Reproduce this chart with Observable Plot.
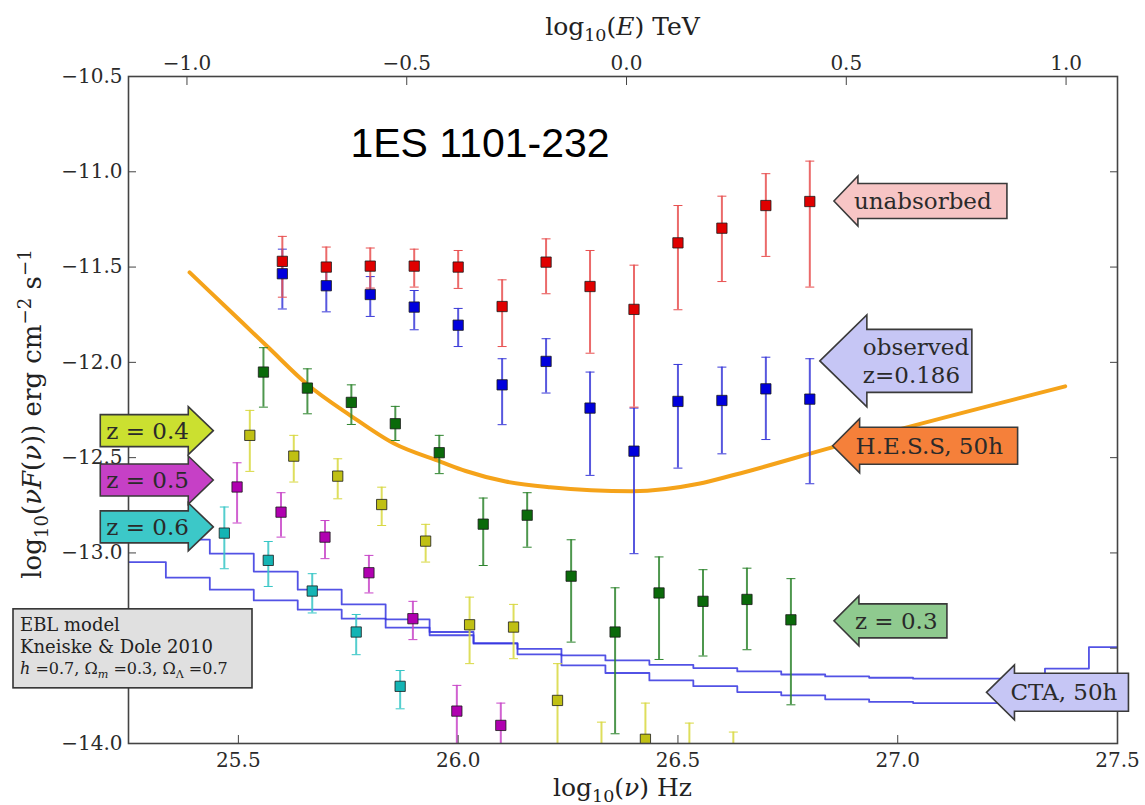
<!DOCTYPE html>
<html><head><meta charset="utf-8">
<script src="https://cdn.jsdelivr.net/npm/d3@7"></script>
<script src="https://cdn.jsdelivr.net/npm/@observablehq/plot@0.6"></script>
<style>body{margin:0;background:#fff;}</style>
</head><body><div id="chart"></div>
<script>
// ---------------- data ----------------
const title = "1ES 1101-232";
const xTicks = [25.5, 26.0, 26.5, 27.0, 27.5];
const yTicks = [-10.5, -11.0, -11.5, -12.0, -12.5, -13.0, -13.5, -14.0];
const yTicksHiddenLabel = [-13.5]; // label covered by the EBL box in the reference
const topTicksE = [-1.0, -0.5, 0.0, 0.5, 1.0];
const nuOfOneTeV = 26.383; // log10(nu) at E = 1 TeV

// unabsorbed (red)
const redX  = [25.6, 25.7, 25.8, 25.9, 26.0, 26.1, 26.2, 26.3, 26.4, 26.5, 26.6, 26.7, 26.8];
const redY  = [-11.47, -11.50, -11.495, -11.495, -11.50, -11.707, -11.474, -11.602, -11.722, -11.373, -11.296, -11.177, -11.156];
const redHi = [-11.339, -11.395, -11.40, -11.406, -11.413, -11.567, -11.352, -11.413, -11.49, -11.177, -11.128, -11.01, -10.944];
const redLo = [-11.658, -11.61, -11.61, -11.605, -11.612, -11.917, -11.64, -11.952, -12.235, -11.724, -11.576, -11.444, -11.605];
// observed z=0.186 (blue)
const blueX  = [25.6, 25.7, 25.8, 25.9, 26.0, 26.1, 26.2, 26.3, 26.4, 26.5, 26.6, 26.7, 26.8];
const blueY  = [-11.535, -11.598, -11.644, -11.71, -11.805, -12.118, -11.995, -12.24, -12.466, -12.205, -12.20, -12.139, -12.193];
const blueHi = [-11.406, -11.50, -11.55, -11.623, -11.717, -11.981, -11.876, -12.051, -12.24, -12.011, -12.025, -11.973, -11.981];
const blueLo = [-11.72, -11.735, -11.759, -11.829, -11.917, -12.327, -12.161, -12.593, -13.004, -12.555, -12.48, -12.405, -12.637];
// z = 0.3 (green)
const greenX  = [25.557, 25.657, 25.757, 25.857, 25.957, 26.057, 26.157, 26.257, 26.357, 26.457, 26.557, 26.657, 26.757];
const greenY  = [-12.051, -12.135, -12.21, -12.322, -12.474, -12.849, -12.802, -13.122, -13.415, -13.21, -13.254, -13.244, -13.351];
const greenHi = [-11.923, -12.034, -12.118, -12.231, -12.383, -12.712, -12.684, -12.931, -13.183, -13.021, -13.088, -13.08, -13.135];
const greenLo = [-12.235, -12.27, -12.326, -12.41, -12.584, -13.066, -12.97, -13.468, -13.949, -13.559, -13.541, -13.508, -13.797];
// z = 0.4 (yellow)
const yellowX  = [25.526, 25.626, 25.726, 25.826, 25.926, 26.026, 26.126, 26.226, 26.326, 26.426, 26.526, 26.626];
const yellowY  = [-12.383, -12.492, -12.597, -12.746, -12.938, -13.377, -13.389, -13.774, -14.15, -13.978, -14.15, -14.2];
const yellowHi = [-12.252, -12.383, -12.506, -12.655, -12.85, -13.232, -13.27, -13.581, -13.888, -13.788, -13.893, -13.94];
const yellowLo = [-12.572, -12.628, -12.716, -12.856, -13.048, -13.581, -13.555, -14.1, -14.5, -14.3, -14.5, -14.5];
// z = 0.5 (magenta)
const magentaX  = [25.497, 25.597, 25.697, 25.797, 25.897, 25.997, 26.097];
const magentaY  = [-12.654, -12.786, -12.917, -13.104, -13.345, -13.83, -13.905];
const magentaHi = [-12.527, -12.684, -12.83, -13.013, -13.254, -13.695, -13.788];
const magentaLo = [-12.843, -12.917, -13.03, -13.21, -13.455, -14.05, -14.1];
// z = 0.6 (cyan)
const cyanX  = [25.468, 25.568, 25.668, 25.768, 25.868];
const cyanY  = [-12.896, -13.039, -13.2, -13.415, -13.70];
const cyanHi = [-12.759, -12.94, -13.109, -13.323, -13.617];
const cyanLo = [-13.083, -13.176, -13.315, -13.534, -13.818];
// H.E.S.S. 50h sensitivity (orange)
const hessX = [25.389, 25.48, 25.566, 25.657, 25.755, 25.853, 25.962, 26.017, 26.108, 26.209, 26.396, 26.547, 26.629, 26.853, 27.381];
const hessY = [-11.528, -11.728, -11.917, -12.116, -12.279, -12.425, -12.523, -12.57, -12.625, -12.655, -12.676, -12.637, -12.59, -12.445, -12.126];
// CTA 50h sensitivity (two step curves)
const ctaUpperX = [25.335, 25.435, 25.535, 25.635, 25.735, 25.835, 25.935, 26.035, 26.135, 26.235, 26.335, 26.435, 26.535, 26.635, 26.735, 26.835, 26.935, 27.035, 27.135, 27.235, 27.335, 27.435, 27.5];
const ctaUpperY = [-12.93, -13.004, -13.098, -13.193, -13.27, -13.349, -13.415, -13.473, -13.503, -13.538, -13.564, -13.587, -13.604, -13.622, -13.638, -13.648, -13.655, -13.66, -13.66, -13.66, -13.607, -13.494, -13.494];
const ctaLowerX = [25.25, 25.335, 25.435, 25.535, 25.635, 25.735, 25.835, 25.935, 26.035, 26.135, 26.235, 26.335, 26.435, 26.535, 26.635, 26.735, 26.835, 26.935, 27.035, 27.5];
const ctaLowerY = [-13.048, -13.13, -13.193, -13.249, -13.298, -13.345, -13.392, -13.432, -13.476, -13.532, -13.59, -13.63, -13.669, -13.699, -13.73, -13.747, -13.768, -13.782, -13.788, -13.788];

// annotation labels (text) and where their arrow tips point (data coords)
const arrowText = [["unabsorbed"], ["observed", "z=0.186"], ["H.E.S.S, 50h"], ["z = 0.3"], ["CTA, 50h"], ["z = 0.4"], ["z = 0.5"], ["z = 0.6"]];
const arrowTipX = [26.856, 26.824, 26.853, 26.856, 27.203, 25.444, 25.444, 25.444];
const arrowTipY = [-11.156, -11.995, -12.44, -13.359, -13.734, -12.361, -12.62, -12.866];
const eblLines = ["EBL model", "Kneiske & Dole 2010"];

// ---------------- styles ----------------
const series = [
  {X: cyanX, Y: cyanY, Hi: cyanHi, Lo: cyanLo, fill: "#14b4b4", bar: "#36c6c6"},
  {X: magentaX, Y: magentaY, Hi: magentaHi, Lo: magentaLo, fill: "#b000b0", bar: "#c845c8"},
  {X: yellowX, Y: yellowY, Hi: yellowHi, Lo: yellowLo, fill: "#c0c014", bar: "#d8d840"},
  {X: greenX, Y: greenY, Hi: greenHi, Lo: greenLo, fill: "#0a6a0a", bar: "#2f852f"},
  {X: blueX, Y: blueY, Hi: blueHi, Lo: blueLo, fill: "#0000dd", bar: "#3a3ad8"},
  {X: redX, Y: redY, Hi: redHi, Lo: redLo, fill: "#e00000", bar: "#e85050"}
];
const arrowStyle = [
  {dir: "left", fill: "#f7c5c5", hl: 24, hh: 25, bh: 17.5, bw: 149},
  {dir: "left", fill: "#c6c6f5", hl: 47, hh: 46, bh: 31.5, bw: 105},
  {dir: "left", fill: "#f5803a", hl: 27, hh: 27, bh: 18.5, bw: 158},
  {dir: "left", fill: "#8fca8f", hl: 25, hh: 25, bh: 17, bw: 88},
  {dir: "left", fill: "#c6c6f5", hl: 28, hh: 27.5, bh: 19, bw: 114},
  {dir: "right", fill: "#cbe030", hl: 25, hh: 24, bh: 16, bw: 88},
  {dir: "right", fill: "#c640c6", hl: 25, hh: 24, bh: 16, bw: 88},
  {dir: "right", fill: "#3cc8c8", hl: 25, hh: 24, bh: 16, bw: 88}
];

const rowsOf = s => s.X.map((v, i) => ({x: v, y: s.Y[i], hi: s.Hi[i], lo: s.Lo[i]}));
const capSymbol = {draw(ctx) { ctx.moveTo(-4.5, 0); ctx.lineTo(4.5, 0); }};
const fmt = v => (Math.abs(v) < 1e-9 ? "0.0" : (v < 0 ? "\u2212" : "") + Math.abs(v).toFixed(1));
const fmtY = v => (yTicksHiddenLabel.includes(v) ? "" : fmt(v));

const marks = [
  Plot.line(ctaLowerX.map((v, i) => ({x: v, y: ctaLowerY[i]})), {x: "x", y: "y", curve: "step-after", stroke: "#3434e0", strokeOpacity: 0.85, strokeWidth: 1.8, clip: true}),
  Plot.line(ctaUpperX.map((v, i) => ({x: v, y: ctaUpperY[i]})), {x: "x", y: "y", curve: "step-after", stroke: "#3434e0", strokeOpacity: 0.85, strokeWidth: 1.8, clip: true}),
  Plot.line(hessX.map((v, i) => ({x: v, y: hessY[i]})), {x: "x", y: "y", curve: "monotone-x", stroke: "#f5a31a", strokeWidth: 4, clip: true})
];
for (const s of series) {
  const rows = rowsOf(s);
  marks.push(Plot.ruleX(rows, {x: "x", y1: "lo", y2: "hi", stroke: s.bar, strokeWidth: 2, strokeOpacity: 0.85, clip: true}));
  marks.push(Plot.dot(rows, {x: "x", y: "hi", symbol: capSymbol, stroke: s.bar, strokeWidth: 1, clip: true}));
  marks.push(Plot.dot(rows, {x: "x", y: "lo", symbol: capSymbol, stroke: s.bar, strokeWidth: 1, clip: true}));
}
for (const s of series) {
  marks.push(Plot.dot(rowsOf(s), {x: "x", y: "y", symbol: "square", r: 5.8, fill: s.fill, stroke: "#1a1a1a", strokeWidth: 0.8, clip: true}));
}
marks.push(
  Plot.text([title], {x: [25.755], y: [-10.925], text: d => d, textAnchor: "start", lineAnchor: "bottom", fontSize: 41, fontFamily: "Liberation Sans, Arial, sans-serif", fill: "#000"}),
  Plot.frame({stroke: "#444", strokeWidth: 1.6}),
  Plot.axisY({anchor: "left", ticks: yTicks, tickSize: -8, tickPadding: 14, tickFormat: fmtY, label: null, stroke: "#444"}),
  Plot.axisY({anchor: "right", ticks: yTicks, tickSize: -8, tickFormat: () => "", label: null, stroke: "#444"}),
  Plot.axisX({anchor: "bottom", ticks: xTicks, tickSize: -8, tickPadding: 17, tickFormat: d => d.toFixed(1), label: null, stroke: "#444"}),
  Plot.axisX({anchor: "top", ticks: topTicksE.map(e => e + nuOfOneTeV), tickSize: -8, tickPadding: 15, tickFormat: v => fmt(v - nuOfOneTeV), label: null, stroke: "#444"})
);

const plot = Plot.plot({
  width: 1145, height: 805,
  marginLeft: 128, marginRight: 28, marginTop: 76, marginBottom: 62,
  x: {domain: [25.25, 27.5]},
  y: {domain: [-14, -10.5]},
  style: {fontFamily: "DejaVu Serif", fontSize: "20px", color: "#2a2a2a", background: "white"},
  marks
});
document.getElementById("chart").appendChild(plot);

// ---------------- annotations placed through the plot's scales ----------------
const sx = plot.scale("x"), sy = plot.scale("y");
const svg = d3.select(plot);
const g = svg.append("g").attr("font-family", "DejaVu Serif").attr("fill", "#222").attr("text-anchor", "start");

function rich(t, parts, size) {
  for (const p of parts) {
    const ts = t.append("tspan").text(p.t);
    if (p.it) ts.attr("font-style", "italic");
    if (p.sub) ts.attr("font-size", size * 0.7).attr("dy", size * 0.25);
    if (p.sup) ts.attr("font-size", size * 0.7).attr("dy", -size * 0.4);
    if (p.back) ts.attr("dy", p.back);
  }
}

// arrows
arrowText.forEach((lines, i) => {
  const st = arrowStyle[i];
  const tx = sx.apply(arrowTipX[i]), ty = sy.apply(arrowTipY[i]);
  let d, textX;
  if (st.dir === "left") {
    const hb = tx + st.hl;
    d = `M${tx},${ty}L${hb},${ty - st.hh}L${hb},${ty - st.bh}L${hb + st.bw},${ty - st.bh}L${hb + st.bw},${ty + st.bh}L${hb},${ty + st.bh}L${hb},${ty + st.hh}Z`;
    textX = hb - 4;
  } else {
    const hb = tx - st.hl;
    d = `M${tx},${ty}L${hb},${ty - st.hh}L${hb},${ty - st.bh}L${hb - st.bw},${ty - st.bh}L${hb - st.bw},${ty + st.bh}L${hb},${ty + st.bh}L${hb},${ty + st.hh}Z`;
    textX = hb - st.bw + 6;
  }
  g.append("path").attr("d", d).attr("fill", st.fill).attr("stroke", "#3a3a3a").attr("stroke-width", 1.6).attr("stroke-linejoin", "miter");
  lines.forEach((ln, j) => {
    g.append("text").attr("x", textX).attr("y", ty + (j - (lines.length - 1) / 2) * 28)
      .attr("dominant-baseline", "central").attr("text-anchor", "start")
      .attr("font-size", 23).attr("fill", "#2a2a2a").text(ln);
  });
});

// EBL box
{
  const x0 = sx.apply(25.25) - 115, y0 = sy.apply(-13.296);
  const w = 239, h = 79;
  g.append("rect").attr("x", x0).attr("y", y0).attr("width", w).attr("height", h)
    .attr("fill", "#e0e0e0").attr("stroke", "#333").attr("stroke-width", 1.6);
  g.append("text").attr("x", x0 + 7).attr("y", y0 + 22).attr("font-size", 18).text(eblLines[0]);
  g.append("text").attr("x", x0 + 7).attr("y", y0 + 44).attr("font-size", 18).text(eblLines[1]);
  const t3 = g.append("text").attr("x", x0 + 7).attr("y", y0 + 65).attr("font-size", 16);
  rich(t3, [{t: "h", it: true}, {t: " =0.7, Ω"}, {t: "m", sub: true, it: true}, {t: " =0.3, Ω", back: -4}, {t: "Λ", sub: true}, {t: " =0.7", back: -4}], 16);
}

// axis titles
{
  const cx = (sx.apply(25.25) + sx.apply(27.5)) / 2;
  const tb = g.append("text").attr("x", cx).attr("y", 796).attr("text-anchor", "middle").attr("font-size", 25);
  rich(tb, [{t: "log"}, {t: "10", sub: true}, {t: "(", back: -6.25}, {t: "ν", it: true}, {t: ") Hz"}], 25);
  const tt = g.append("text").attr("x", cx).attr("y", 35).attr("text-anchor", "middle").attr("font-size", 25);
  rich(tt, [{t: "log"}, {t: "10", sub: true}, {t: "(", back: -6.25}, {t: "E", it: true}, {t: ") TeV"}], 25);
  const ty = g.append("text").attr("transform", "translate(41,414) rotate(-90)").attr("text-anchor", "middle").attr("font-size", 26);
  rich(ty, [{t: "log"}, {t: "10", sub: true}, {t: "(", back: -6.5}, {t: "νF", it: true}, {t: "("}, {t: "ν", it: true}, {t: ")) erg cm"}, {t: "−2", sup: true}, {t: " s", back: 10.4}, {t: "−1", sup: true}], 26);
}
</script>
</body></html>
